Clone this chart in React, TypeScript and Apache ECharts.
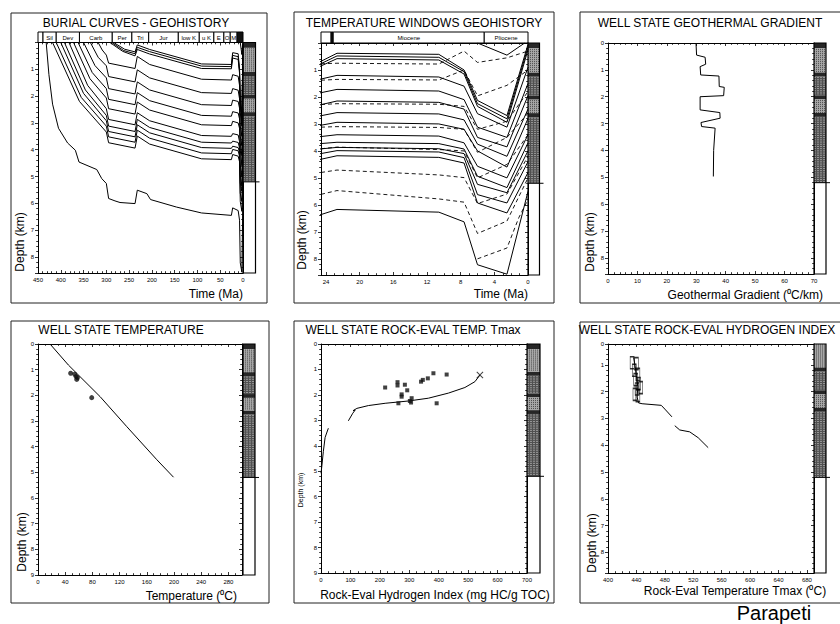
import React, { useEffect, useRef } from "react";
import * as echarts from "echarts";

const FONT = '"Liberation Sans", Arial, sans-serif';

// ---------- Geological time header (label, start Ma, end Ma, filled) ----------
const geoPeriods: [string, number, number, number][] = [
  ["", 450, 439, 0], ["Sil", 439, 410, 0], ["Dev", 410, 359, 0], ["Carb", 359, 287, 0],
  ["Per", 287, 244, 0], ["Tri", 244, 207, 0], ["Jur", 207, 142, 0], ["low K", 142, 96, 0],
  ["u K", 96, 64, 0], ["E", 64, 42, 0], ["O", 42, 28, 0], ["M", 28, 13, 0], ["", 13, 0, 1],
];
const neoPeriods: [string, number, number, number][] = [
  ["", 24.6, 23.4, 0], ["", 23.4, 23.15, 1], ["Miocene", 23.15, 5.2, 0], ["Pliocene", 5.2, 0, 0],
];

// ---------- Burial curves: [time Ma, depth km] ----------
const H1 = [[284,0],[260,0.25],[237,0.35],[232,0.09],[205,0.26],[91,0.8],[25.5,0.82],[22.7,0.38],[10.6,0.42],[7.6,1.0],[6.0,2.13],[2.5,2.69],[0,0.05]];
const H2 = [[288,0],[262,0.3],[237,0.42],[232,0.18],[205,0.34],[91,0.88],[25.5,0.9],[22.7,0.48],[10.6,0.53],[7.6,1.06],[6.0,2.25],[2.5,2.81],[0,0.15]];
const H3 = [[292,0],[264,0.33],[237,0.5],[232,0.26],[205,0.43],[91,0.97],[25.5,0.98],[22.7,0.58],[10.6,0.63],[7.6,1.15],[6.0,2.35],[2.5,2.94],[0,0.25]];
const H4 = [[318,0],[309,0.28],[300,0.47],[295,0.77],[237,0.97],[232,0.52],[205,0.82],[91,1.37],[25.5,1.4],[22.7,1.2],[10.6,1.26],[7.6,1.6],[6.0,2.62],[2.5,3.12],[0,0.9]];
const H5 = [[335,0],[318,0.55],[300,0.87],[295,1.27],[237,1.47],[232,1.02],[205,1.32],[91,1.87],[25.5,1.9],[22.7,1.72],[10.6,1.78],[7.6,2.1],[6.0,3.12],[2.5,3.5],[0,1.5]];
const H6 = [[350,0],[325,0.86],[300,1.32],[295,1.72],[237,1.92],[232,1.47],[205,1.77],[91,2.32],[25.5,2.35],[22.7,2.15],[10.6,2.2],[7.6,2.45],[6.0,3.5],[2.5,3.85],[0,1.95]];
const H7 = [[362,0],[331,1.12],[300,1.72],[295,2.12],[237,2.32],[232,1.87],[205,2.17],[91,2.72],[25.5,2.75],[22.7,2.58],[10.6,2.63],[7.6,2.85],[6.0,3.75],[2.5,4.2],[0,2.45]];
const H8 = [[372,0],[336,1.35],[300,2.07],[295,2.47],[237,2.67],[232,2.22],[205,2.52],[91,3.07],[25.5,3.1],[22.7,2.94],[10.6,3.0],[7.6,3.2],[6.0,4.0],[2.5,4.6],[0,2.8]];
const H9 = [[382,0],[341,1.6],[300,2.47],[295,2.87],[237,3.07],[232,2.62],[205,2.92],[91,3.47],[25.5,3.5],[22.7,3.4],[10.6,3.45],[7.6,3.7],[6.0,4.57],[2.5,5.0],[0,3.4]];
const H10 = [[392,0],[346,1.77],[300,2.72],[295,3.12],[237,3.32],[232,2.87],[205,3.17],[91,3.72],[25.5,3.75],[22.7,3.68],[10.6,3.73],[7.6,3.93],[6.0,4.94],[2.5,5.36],[0,3.7]];
const H11 = [[400,0],[350,1.9],[300,2.92],[295,3.32],[237,3.52],[232,3.07],[205,3.37],[91,3.92],[25.5,3.95],[22.7,3.87],[10.6,3.92],[7.6,4.1],[6.0,5.24],[2.5,5.55],[0,4.0]];
const H12 = [[410,0],[355,2.05],[300,3.12],[295,3.52],[237,3.72],[232,3.27],[205,3.57],[91,4.12],[25.5,4.15],[22.7,3.99],[10.6,4.04],[7.6,4.25],[6.0,5.62],[2.5,5.93],[0,4.4]];
const H13 = [[418,0],[359,2.2],[300,3.34],[295,3.74],[237,3.94],[232,3.49],[205,3.79],[91,4.34],[25.5,4.37],[22.7,4.18],[10.6,4.24],[7.6,4.45],[6.0,5.93],[2.5,6.3],[0,4.8]];
const H14 = [[432,0],[426,1.2],[418,2.3],[405,3.2],[385,3.75],[368,4.02],[360,4.46],[321,4.74],[310,5.08],[300,5.26],[295,5.82],[281,5.91],[270,5.97],[237,6.01],[232,5.51],[211,5.64],[203,5.86],[146,6.14],[91,6.36],[25.5,6.45],[22.7,6.17],[10.6,6.27],[7.6,6.63],[6.0,8.22],[2.5,8.57],[0,5.5]];
const Y1 = [[6.0,0],[2.5,0.45],[0.4,0]];
const horizons = [H1, H2, H3, H4, H5, H6, H7, H8, H9, H10, H11, H12, H13, H14, Y1];

// ---------- Isotherms (deg C) : [time Ma, depth km] ----------
const iso25 = [[24.6,0.77],[22.7,0.75],[10.6,0.78],[7.6,0.3],[6.0,0.72],[2.5,0.55],[0,0.3]];
const iso50 = [[24.6,1.38],[22.7,1.35],[10.6,1.37],[7.6,1.0],[6.0,1.96],[2.5,1.57],[0,1.0]];
const iso75 = [[24.6,2.28],[22.7,2.25],[10.6,2.27],[7.6,2.35],[6.0,3.2],[2.5,2.9],[0,1.8]];
const iso100 = [[24.6,3.12],[22.7,3.1],[10.6,3.13],[7.6,3.2],[6.0,4.05],[2.5,3.5],[0,2.6]];
const iso125 = [[24.6,3.92],[22.7,3.86],[10.6,3.95],[7.6,4.0],[6.0,5.0],[2.5,4.5],[0,3.4]];
const iso150 = [[24.6,4.8],[22.7,4.71],[10.6,4.89],[7.6,4.99],[6.0,5.95],[2.5,5.6],[0,4.2]];
const iso175 = [[24.6,5.61],[22.7,5.47],[10.6,5.78],[7.6,5.9],[6.0,7.06],[2.5,6.6],[0,5.0]];
const iso200 = [[6.0,8.0],[2.5,7.6],[1.1,6.48],[0,5.8]];
const isotherms = [iso25, iso50, iso75, iso100, iso125, iso150, iso175, iso200];
const isoLabels = [[17,1.42,50],[16.6,3.12,100],[16.2,4.86,150],[3.9,7.79,200]];

// ---------- Well state ----------
const gradientProfile = [[29.9,0],[30.1,0.45],[33.0,0.53],[33.2,0.79],[31.3,0.88],[31.5,1.19],[37.7,1.23],[37.8,1.62],[39.5,1.65],[39.3,1.96],[31.3,2.0],[31.3,2.49],[38.0,2.59],[38.1,2.8],[31.6,2.96],[31.8,3.11],[36.4,3.17],[35.9,4.0],[35.8,4.97]];
const tempModel = [[17.7,0],[44.7,0.82],[91.3,2.05],[130.6,3.22],[174.8,4.51],[199.3,5.19]];
const tempMeasured = [[48,1.14],[54,1.18],[56,1.27],[58,1.31],[57,1.38],[79,2.09]];
const hiModelUpper = [[93,3.02],[108,2.72],[116,2.6],[109,2.62],[122,2.53],[161,2.42],[218,2.33],[297,2.24],[365,2.13],[433,1.93],[489,1.71],[523,1.48],[540,1.22]];
const hiModelLower = [[25,3.31],[14,3.67],[8,4.22],[2,4.89],[0,5.08]];
const hiMeasured = [[218,1.71],[260,1.5],[260,1.63],[285,1.6],[293,1.82],[274,1.98],[274,2.07],[263,2.33],[302,2.24],[308,2.13],[306,2.3],[340,1.48],[346,1.41],[363,1.35],[382,1.15],[427,1.2],[393,2.33]];
const hiEnd = [[540,1.22]];
const tmaxModelA = [[436,0.72],[438,1.0],[440,1.4],[442,1.8],[441,2.2],[443,2.42],[448,2.45],[475,2.51],[480,2.65],[490,2.94]];
const tmaxModelB = [[494,3.27],[501,3.43],[515,3.5],[527,3.72],[541,4.09]];
const tmaxMeasured = [[434,0.92],[440,0.95],[437,1.2],[442,1.35],[439,1.55],[443,1.7],[441,1.9],[446,1.85],[438,2.1],[442,2.15]];

// ---------- Lithology column: [top km, bottom km, kind 0=sand 1=shale 2=dark] ----------
const lithoLayers = [[0,0.2,2],[0.2,1.1,0],[1.1,1.25,2],[1.25,1.95,1],[1.95,2.1,2],[2.1,2.6,0],[2.6,2.75,2],[2.75,5.2,1]];
const wellTD = 5.2;

function lithoRender(_params: any, api: any) {
  const top = api.value(1), bot = api.value(2), kind = api.value(3);
  const a = api.coord([0, top]);
  const b = api.coord([1, bot]);
  const x = a[0], y = a[1], w = b[0] - a[0], h = b[1] - a[1];
  if (kind === 9) return { type: "rect", shape: { x, y, width: w, height: h }, style: { fill: "none", stroke: "#000", lineWidth: 1.2 } };
  if (kind === 8) return { type: "line", shape: { x1: x, y1: y, x2: x + w + 4, y2: y }, style: { stroke: "#000", lineWidth: 1 } };
  const children: any[] = [{ type: "rect", shape: { x, y, width: w, height: h }, style: { fill: kind === 0 ? "#a8a8a8" : kind === 1 ? "#505050" : "#262626" } }];
  if (kind === 0) {
    for (let yy = y + 1; yy < y + h; yy += 2) children.push({ type: "line", shape: { x1: x, y1: yy, x2: x + w, y2: yy }, style: { stroke: "#333", lineWidth: 0.8, lineDash: [1, 1] } });
  } else if (kind === 1) {
    for (let yy = y + 1; yy < y + h; yy += 2.2) children.push({ type: "line", shape: { x1: x, y1: yy, x2: x + w, y2: yy }, style: { stroke: "#cfcfcf", lineWidth: 0.6, lineDash: [2, 1] } });
  }
  return { type: "group", children };
}

function buildOption() {
  const grid: any[] = [], xAxis: any[] = [], yAxis: any[] = [], series: any[] = [], graphic: any[] = [];
  const tickLabel = { fontSize: 6, color: "#000", fontFamily: FONT };
  const lineCol = { color: "#000", width: 1 };

  function addPlot(c: any) {
    const gi = grid.length;
    grid.push({ left: c.left, top: c.top, width: c.width, height: c.height, outerBoundsMode: "none" });
    const xi = xAxis.length;
    const xc = {
      type: "value", gridIndex: gi, min: c.x[0], max: c.x[1], interval: c.xInt, inverse: !!c.xInv,
      splitLine: { show: false }, axisLine: { show: true, onZero: false, lineStyle: lineCol },
      axisTick: { show: true, inside: true, length: 3, lineStyle: { color: "#000", width: 0.8 } },
      minorTick: { show: true, splitNumber: c.xMinor, length: 1.8, lineStyle: { color: "#000", width: 0.8 } },
    };
    xAxis.push({ ...xc, position: "bottom", axisLabel: { ...tickLabel, margin: 4, formatter: (v: number) => (Math.abs(v / c.xInt - Math.round(v / c.xInt)) < 1e-6 ? String(Math.round(v)) : "") } });
    xAxis.push({ ...xc, position: "top", axisLabel: { show: false } });
    const yi = yAxis.length;
    const yc = {
      type: "value", gridIndex: gi, min: c.y[0], max: c.y[1], minInterval: 1, maxInterval: 1, inverse: true,
      splitLine: { show: false }, axisLine: { show: true, onZero: false, lineStyle: lineCol },
      minorTick: { show: true, splitNumber: 5, length: 1.8, lineStyle: { color: "#000", width: 0.8 } },
    };
    yAxis.push({
      ...yc, position: "left",
      axisTick: { show: true, inside: false, length: 3, lineStyle: { color: "#000", width: 0.8 } },
      axisLabel: {
        ...tickLabel, margin: 4,
        formatter: (v: number) => {
          if (v < 0.5) return c.showY0 ? "0" : "";
          if (Math.abs(v - Math.round(v)) > 1e-6) return "";
          return String(Math.round(v));
        },
      },
    });
    yAxis.push({ ...yc, position: "right", axisTick: { show: true, inside: true, length: 3, lineStyle: { color: "#000", width: 0.8 } }, axisLabel: { show: false } });
    return { xi, yi };
  }

  function addLitho(left: number, top: number, width: number, height: number, y: number[]) {
    const gi = grid.length;
    grid.push({ left, top, width, height, outerBoundsMode: "none" });
    const xi = xAxis.length;
    xAxis.push({ type: "value", gridIndex: gi, min: 0, max: 1, show: false });
    const yi = yAxis.length;
    yAxis.push({ type: "value", gridIndex: gi, min: y[0], max: y[1], inverse: true, show: false });
    const items: number[][] = lithoLayers.filter((l) => l[1] > y[0]).map((l) => [0, Math.max(l[0], y[0]), l[1], l[2]]);
    items.push([0, y[0], y[1], 9]);
    items.push([0, wellTD, wellTD, 8]);
    series.push({ type: "custom", xAxisIndex: xi, yAxisIndex: yi, data: items, renderItem: lithoRender, silent: true, z: 2 });
  }

  function addHeader(left: number, top: number, width: number, height: number, x: number[], periods: any[]) {
    const gi = grid.length;
    grid.push({ left, top, width, height, outerBoundsMode: "none" });
    const xi = xAxis.length;
    xAxis.push({ type: "value", gridIndex: gi, min: x[0], max: x[1], inverse: true, show: false });
    const yi = yAxis.length;
    yAxis.push({ type: "value", gridIndex: gi, min: 0, max: 1, show: false });
    series.push({
      type: "custom", xAxisIndex: xi, yAxisIndex: yi, silent: true,
      data: periods.map((p) => [p[1], p[2]]),
      renderItem: (params: any, api: any) => {
        const p = periods[params.dataIndex];
        const a = api.coord([p[1], 1]);
        const b = api.coord([p[2], 0]);
        const x0 = Math.min(a[0], b[0]), x1 = Math.max(a[0], b[0]);
        const y0 = Math.min(a[1], b[1]), y1 = Math.max(a[1], b[1]);
        return {
          type: "group",
          children: [
            { type: "rect", shape: { x: x0, y: y0, width: x1 - x0, height: y1 - y0 }, style: { fill: p[3] ? "#111" : "#fff", stroke: "#000", lineWidth: 1 } },
            { type: "text", style: { text: p[0], x: (x0 + x1) / 2, y: (y0 + y1) / 2 + 0.5, align: "center", verticalAlign: "middle", fontSize: 6, fontFamily: FONT, fill: "#000" } },
          ],
        };
      },
    });
  }

  const line = (ax: any, data: number[][], dashed = false) => ({
    type: "line", xAxisIndex: ax.xi, yAxisIndex: ax.yi, data, symbol: "none", silent: true,
    lineStyle: { color: "#000", width: dashed ? 0.9 : 1, type: dashed ? [4, 3] : "solid" }, z: 3,
  });

  const txt = (text: string, x: number, y: number, size: number, align = "center", rot = 0) => ({
    type: "text", x, y, rotation: rot, silent: true,
    style: { text, x: 0, y: 0, font: `${size}px ${FONT}`, fill: "#000", textAlign: align, align, textVerticalAlign: "middle", verticalAlign: "middle" },
  });

  // ---- Panel 1: burial curves ----
  const p1 = addPlot({ left: 38, top: 42.5, width: 205, height: 230.5, x: [0, 450], xInt: 50, xInv: true, xMinor: 5, y: [0, 8.6], showY0: false });
  addHeader(38, 32, 205, 10.5, [0, 450], geoPeriods);
  addLitho(243, 42.5, 12.5, 230.5, [0, 8.6]);
  horizons.forEach((h) => series.push(line(p1, h)));

  // ---- Panel 2: temperature windows ----
  const p2 = addPlot({ left: 321, top: 43, width: 207, height: 232, x: [0, 24.6], xInt: 4, xInv: true, xMinor: 4, y: [0, 8.6], showY0: false });
  addHeader(321, 32, 207, 11, [0, 24.6], neoPeriods);
  addLitho(528, 43, 11.5, 232, [0, 8.6]);
  horizons.forEach((h) => series.push(line(p2, h)));
  isotherms.forEach((h) => series.push(line(p2, h, true)));
  series.push({
    type: "scatter", xAxisIndex: p2.xi, yAxisIndex: p2.yi, data: isoLabels, symbolSize: 1, itemStyle: { opacity: 0 }, z: 5, silent: true,
    label: { show: true, position: "inside", formatter: (p: any) => String(p.value[2]), fontSize: 7, fontWeight: "bold", fontFamily: FONT, color: "#000", backgroundColor: "#fff", padding: [0, 2] },
  });

  // ---- Panel 3: geothermal gradient ----
  const p3 = addPlot({ left: 608, top: 43, width: 206, height: 231, x: [0, 70], xInt: 10, xMinor: 5, y: [0, 8.6], showY0: true });
  addLitho(814, 43, 12, 231, [0, 8.6]);
  series.push(line(p3, gradientProfile));

  // ---- Panel 4: temperature ----
  const p4 = addPlot({ left: 38, top: 344, width: 204, height: 231, x: [0, 300], xInt: 40, xMinor: 4, y: [0, 9], showY0: true });
  addLitho(243, 344, 12, 231, [0, 9]);
  series.push(line(p4, tempModel));
  series.push({ type: "scatter", xAxisIndex: p4.xi, yAxisIndex: p4.yi, data: tempMeasured, symbol: "circle", symbolSize: 5, itemStyle: { color: "#111" }, silent: true, z: 4 });

  // ---- Panel 5: hydrogen index ----
  const p5 = addPlot({ left: 321, top: 344, width: 206, height: 229, x: [0, 700], xInt: 100, xMinor: 4, y: [0, 9], showY0: true });
  addLitho(527, 344, 13, 229, [0, 9]);
  series.push(line(p5, hiModelUpper));
  series.push(line(p5, hiModelLower));
  series.push({ type: "scatter", xAxisIndex: p5.xi, yAxisIndex: p5.yi, data: hiMeasured, symbol: "rect", symbolSize: 4, itemStyle: { color: "#111" }, silent: true, z: 4 });
  series.push({
    type: "scatter", xAxisIndex: p5.xi, yAxisIndex: p5.yi, data: hiEnd, silent: true, z: 4,
    symbol: "path://M0 1 L1 0 L5 4 L9 0 L10 1 L6 5 L10 9 L9 10 L5 6 L1 10 L0 9 L4 5 Z", symbolSize: 7, itemStyle: { color: "#111" },
  });

  // ---- Panel 6: Tmax ----
  const p6 = addPlot({ left: 608, top: 344, width: 206, height: 229, x: [400, 690], xInt: 40, xMinor: 4, y: [0.22, 8.77], showY0: true });
  addLitho(814, 344, 12, 229, [0.22, 8.77]);
  series.push(line(p6, tmaxModelA));
  series.push(line(p6, tmaxModelB));
  series.push({ type: "scatter", xAxisIndex: p6.xi, yAxisIndex: p6.yi, data: tmaxMeasured, symbol: "rect", symbolSize: [4, 12], itemStyle: { color: "rgba(0,0,0,0)", borderColor: "#000", borderWidth: 1 }, silent: true, z: 4 });

  // ---- Frames ----
  const frames = [[11, 13, 256, 290], [294, 12, 260, 291], [580, 12, 262, 291], [11, 321, 258, 282], [294, 321, 260, 282], [580, 322, 262, 281]];
  frames.forEach((f) => graphic.push({ type: "rect", silent: true, z: -10, shape: { x: f[0], y: f[1], width: f[2], height: f[3] }, style: { fill: "none", stroke: "#222", lineWidth: 1 } }));

  // ---- Titles and axis names ----
  graphic.push(txt("BURIAL CURVES - GEOHISTORY", 136, 23, 12));
  graphic.push(txt("TEMPERATURE WINDOWS GEOHISTORY", 424, 23, 12));
  graphic.push(txt("WELL STATE GEOTHERMAL GRADIENT", 710, 23, 12));
  graphic.push(txt("WELL STATE TEMPERATURE", 121, 330, 12));
  graphic.push(txt("WELL STATE ROCK-EVAL TEMP. Tmax", 413, 330, 12));
  graphic.push(txt("WELL STATE ROCK-EVAL HYDROGEN INDEX", 707, 330, 12));

  graphic.push(txt("Time (Ma)", 243, 294, 12, "right"));
  graphic.push(txt("Time (Ma)", 528, 294, 12, "right"));
  graphic.push(txt("Geothermal Gradient (\u2070C/km)", 823, 295, 12, "right"));
  graphic.push(txt("Temperature (\u2070C)", 237, 596, 12, "right"));
  graphic.push(txt("Rock-Eval Hydrogen Index (mg HC/g TOC)", 435, 595, 12));
  graphic.push(txt("Rock-Eval Temperature Tmax (\u2070C)", 735, 591, 12));

  graphic.push(txt("Depth (km)", 20, 242, 12, "center", Math.PI / 2));
  graphic.push(txt("Depth (km)", 302, 240, 12, "center", Math.PI / 2));
  graphic.push(txt("Depth (km)", 590, 242, 12, "center", Math.PI / 2));
  graphic.push(txt("Depth (km)", 22, 542, 12, "center", Math.PI / 2));
  graphic.push(txt("Depth (km)", 300, 490, 7, "center", Math.PI / 2));
  graphic.push(txt("Depth (km)", 592, 543, 12, "center", Math.PI / 2));

  graphic.push(txt("Parapeti", 774, 613, 20));

  return { animation: false, backgroundColor: "#fff", grid, xAxis, yAxis, series, graphic };
}

export default function App() {
  const ref = useRef<HTMLDivElement>(null);
  useEffect(() => {
    const chart = echarts.init(ref.current!, null, { renderer: "svg" });
    chart.setOption(buildOption() as any);
    return () => chart.dispose();
  }, []);
  return <div ref={ref} style={{ position: "fixed", left: 0, top: 0, width: 840, height: 624, background: "#fff" }} />;
}
